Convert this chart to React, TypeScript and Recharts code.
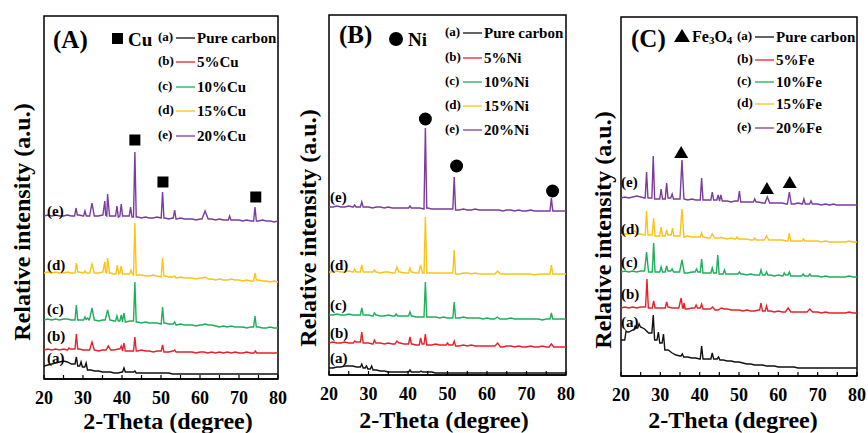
import React from 'react';
import { ComposedChart, Line, Scatter, XAxis, YAxis, ReferenceArea } from 'recharts';

const FONT = "'Liberation Serif','Times New Roman',serif";
const X_TICKS = [20, 25, 30, 35, 40, 45, 50, 55, 60, 65, 70, 75, 80];
const COLORS = ['#111111', '#e8202a', '#1fae5b', '#fcc317', '#7a3c9e'];
const CURVE_TAGS = ['(a)', '(b)', '(c)', '(d)', '(e)'];

// ---------- Panel A : Cu (baseline values at 20,21,...,80 deg; peaks [2θ, apex, halfWidth?]) ----------
const cuA_base = [13,14,15,16,17,18,17,15,14,13, 12,11,9,8,8,7,7,7,6,6, 7,7,7,6,6,6,6,6,6,6, 6,6,6,5,5,5,5,5,5,5, 5,5,5,5,5,5,5,5,5,5, 5,5,5,5,5,5,5,5,5,5, 5];
const cuA_peaks = [[28.3,22],[29.5,17],[30.8,16],[40.5,11],[43.3,8]];
const cuB_base = [29,30,29,30,29,30,29,30,29,30, 29,29,30,29,28,29,29,28,29,30, 29,28,28,29,28,29,28,28,27,28, 28,27,27,28,27,27,27,27,27,26, 27,27,26,27,26,27,26,27,26,27, 26,26,27,26,26,26,26,26,26,26, 26];
const cuB_peaks = [[26.4,31],[28.3,45],[32.3,37,0.6],[36.5,33,0.6],[39.8,33],[40.5,36],[43.3,42],[50.4,34],[53.5,29],[74.2,28]];
const cuC_base = [59,60,59,60,59,60,60,59,60,59, 59,60,59,59,58,59,58,59,58,58, 58,57,58,57,57,56,57,56,56,56, 55,56,55,55,54,55,54,54,54,53, 54,53,53,54,53,52,53,52,53,52, 52,52,51,52,51,52,51,51,52,51, 51];
const cuC_peaks = [[28.3,74],[30.5,62],[31.2,61],[32.3,71,0.6],[36.3,69,0.6],[38.7,63],[39.8,64],[40.5,66],[43.3,97],[50.4,72],[53.5,57],[61.3,55,0.8],[74.1,63]];
const cuD_base = [106,107,106,107,106,106,107,106,106,107, 106,106,107,106,106,107,106,106,105,106, 105,105,104,105,104,104,103,103,104,103, 102,103,102,102,101,102,101,101,101,100, 101,100,100,100,99,100,99,99,100,99, 99,98,99,98,98,99,98,98,97,98, 97];
const cuD_peaks = [[28.3,116],[30.5,108],[32.3,115,0.6],[35.6,117,0.5],[36.3,121,0.5],[38.8,114],[39.8,113],[42.3,109],[43.3,156],[50.4,121],[53.5,103],[61.3,102,0.8],[74.1,106]];
const cuE_base = [163,164,163,164,163,163,164,163,163,164, 163,163,164,163,163,164,163,163,163,163, 162,163,162,162,162,161,162,161,161,162, 161,161,160,161,160,161,160,160,160,159, 160,160,159,160,159,160,159,159,159,159, 159,158,159,158,159,158,159,158,158,157, 158];
const cuE_peaks = [[28.2,171],[30.5,168],[32.3,176,0.6],[35.6,178,0.5],[36.3,185,0.5],[38.7,173],[39.8,175],[42.2,172],[43.3,227],[50.4,187],[53.5,169],[61.3,168,0.8],[67.6,163],[74.1,172]];
const cuMarks = [{ x: 43.3, y: 239 }, { x: 50.5, y: 197 }, { x: 74.3, y: 182 }];
const cuLegend = ['Pure carbon', '5%Cu', '10%Cu', '15%Cu', '20%Cu'];

// ---------- Panel B : Ni ----------
const niA_base = [7,7,8,8,9,9,9,8,8,7, 6,5,5,4,4,3,3,3,3,3, 3,3,3,3,3,3,3,2,2,2, 2,2,2,2,2,2,2,2,2,2, 2,2,2,2,2,2,2,2,2,2, 2,2,2,2,2,2,2,2,2,2, 2];
const niA_peaks = [[28.3,11],[29.5,9],[30.8,9],[40.5,5],[43.3,4]];
const niB_base = [32,33,32,32,33,32,32,33,32,32, 32,31,32,32,31,32,31,31,32,31, 31,31,30,31,31,30,30,31,30,30, 30,30,30,29,30,29,30,29,29,29, 29,29,29,29,28,29,29,28,29,28, 28,29,28,28,29,28,28,28,28,28, 28];
const niB_peaks = [[26.5,34],[28.3,43],[31.5,35],[37.2,34,0.5],[40.5,38],[43.2,37],[44.4,41],[50,32],[51.7,34],[62.7,32,0.7],[76.3,31,0.6]];
const niC_base = [60,60,61,60,60,61,60,60,60,60, 60,59,60,59,59,60,59,59,59,59, 59,59,58,58,58,58,58,58,57,58, 57,57,57,57,58,57,57,57,57,56, 57,56,56,57,56,56,57,56,56,56, 56,56,56,56,55,56,56,56,56,56, 56];
const niC_peaks = [[28.3,67],[31.5,62],[37,61],[40.5,63],[44.4,93],[51.7,73],[62.6,58,0.7],[76.3,62]];
const niD_base = [103,103,104,103,103,104,103,103,103,103, 103,103,103,102,103,103,102,103,103,102, 102,103,102,102,102,102,102,102,102,102, 102,102,102,101,102,102,101,102,101,101, 101,101,101,102,101,101,101,101,101,101, 101,101,100,101,101,101,101,101,101,101, 101];
const niD_peaks = [[26.5,106],[28.3,110],[31.5,105],[37.2,108,0.5],[40.5,107],[43.2,110,0.5],[44.4,158],[51.7,125],[62.7,104,0.7],[76.3,110]];
const niE_base = [168,168,169,168,168,169,168,168,168,168, 168,167,168,168,167,168,167,167,167,167, 167,167,167,167,166,167,166,166,166,166, 166,166,166,165,166,165,165,166,165,165, 165,165,165,165,164,165,165,164,165,164, 164,165,164,164,164,164,164,164,164,164, 164];
const niE_peaks = [[26.5,170],[28.3,173],[40.5,169],[44.4,247],[51.7,198],[76.3,177]];
const niMarks = [{ x: 44.4, y: 256 }, { x: 52.3, y: 209 }, { x: 76.6, y: 184 }];
const niLegend = ['Pure carbon', '5%Ni', '10%Ni', '15%Ni', '20%Ni'];

// ---------- Panel C : Fe ----------
const feA_base = [36,41,44,46,48,49,47,43,39,36, 33,30,26,23,21,20,19,19,18,18, 17,17,17,18,17,16,16,15,15,14, 14,13,12,12,11,11,11,10,10,10, 9,9,9,9,9,8,8,8,8,8, 8,8,8,8,8,8,8,8,8,8, 8];
const feA_peaks = [[21.3,45],[23.6,50],[24.6,52],[28.2,61],[29.5,44],[30.8,42],[35.6,22],[40.5,30],[43.2,23],[44.8,19]];
const feB_base = [68,69,68,69,68,69,69,68,69,68, 68,68,69,68,68,68,68,67,68,67, 68,67,67,67,66,67,66,67,66,66, 66,65,66,65,65,66,65,65,65,64, 65,64,64,65,64,64,64,64,64,64, 64,63,64,63,63,63,63,63,64,63, 63];
const feB_peaks = [[26.6,97],[28.3,75],[31.6,74],[35.3,78,0.6],[36,73],[39.1,71],[40.5,72],[43.3,69,0.6],[45.5,68,0.8],[55.6,73],[57,70],[62.5,68,0.7],[68,67,0.7]];
const feC_base = [104,105,104,105,104,105,105,104,105,104, 104,104,105,104,104,104,104,103,104,103, 104,103,103,103,103,102,103,102,102,102, 102,102,101,102,101,101,101,101,101,100, 101,100,101,100,100,100,100,100,100,100, 100,99,100,99,99,99,99,99,100,99, 99];
const feC_peaks = [[26.5,124,0.5],[28.3,133],[30.2,109],[31.6,110],[33,107],[35.5,116,0.6],[39.2,107],[40.5,117],[43.2,108],[44.6,121],[46.3,106],[50.1,104],[55.6,106],[57,104],[61.5,103],[62.8,104],[66.3,102],[68,102]];
const feD_base = [141,142,142,144,143,142,141,141,141,140, 140,140,141,140,140,140,139,140,139,139, 139,139,138,139,138,138,138,137,138,137, 137,137,137,136,137,136,136,137,136,136, 136,136,135,136,135,135,135,135,135,135, 135,134,135,134,134,134,134,134,135,134, 134];
const feD_peaks = [[23.5,145,1],[26.5,165],[28.3,158],[30.2,149],[31.6,146],[33.1,148],[35.5,167,0.5],[40.5,143],[43.2,142,0.6],[45.5,139],[49.5,139],[54,138],[57,140,0.6],[62.8,143],[66.4,137]];
const feE_base = [178,179,178,179,180,179,178,178,178,177, 177,177,178,177,177,177,177,176,177,176, 176,176,176,175,176,175,175,175,174,175, 174,174,174,174,173,174,173,173,173,173, 173,173,172,173,172,173,172,172,172,172, 172,171,172,171,172,171,171,171,171,171, 171];
const feE_peaks = [[26.5,204],[28.2,220],[30.2,187],[31.6,193],[33,182],[35.5,216,0.5],[40.5,198],[43.2,184],[44.7,181],[45.4,181],[50.1,185],[54,177],[57.2,179,0.6],[62.8,184,0.5],[66.5,177],[68.3,175],[74,172,0.8]];
const feMarks = [{ x: 35.3, y: 224 }, { x: 57.1, y: 188 }, { x: 62.9, y: 194 }];
const feLegend = ['Pure carbon', '5%Fe', '10%Fe', '15%Fe', '20%Fe'];

type Pt = { x: number; y: number };

function buildSeries(base: number[], peaks: number[][]): Pt[] {
  const pts: Pt[] = [];
  base.forEach((v, i) => {
    const x = 20 + i;
    const hidden = peaks.some((p) => Math.abs(p[0] - x) < (p[2] ?? 0.35));
    if (!hidden) pts.push({ x, y: v });
  });
  peaks.forEach((p) => {
    const w = p[2] ?? 0.35;
    const c = p[0];
    const li = Math.max(0, Math.floor(c - w) - 20);
    const ri = Math.min(base.length - 1, Math.ceil(c + w) - 20);
    pts.push({ x: c - w, y: base[li] }, { x: c, y: p[1] }, { x: c + w, y: base[ri] });
  });
  pts.sort((a, b) => a.x - b.x);
  return pts;
}

const SquareShape = (p: any) => <rect x={p.cx - 5.5} y={p.cy - 5.5} width={11} height={11} fill="#000" />;
const CircleShape = (p: any) => <circle cx={p.cx} cy={p.cy} r={6.5} fill="#000" />;
const TriangleShape = (p: any) => (
  <polygon points={`${p.cx - 7},${p.cy + 6} ${p.cx + 7},${p.cy + 6} ${p.cx},${p.cy - 6}`} fill="#000" />
);

type PanelProps = {
  left: number;
  width: number;
  margin: { top: number; right: number; left: number; bottom: number };
  xHeight: number;
  yMax: number;
  series: Pt[][];
  marks: Pt[];
  shape: any;
};

function Panel({ left, width, margin, xHeight, yMax, series, marks, shape }: PanelProps) {
  return (
    <div style={{ position: 'absolute', left, top: 0 }}>
      <ComposedChart width={width} height={433} margin={margin}>
        <XAxis
          dataKey="x"
          type="number"
          domain={[20, 80]}
          ticks={X_TICKS}
          allowDataOverflow
          height={xHeight}
          tickSize={-4}
          tickMargin={16}
          interval={0}
          tickFormatter={(v: number) => (v % 10 === 0 ? String(v) : '')}
          tick={{ fontSize: 18, fontWeight: 'bold', fill: '#000', fontFamily: FONT }}
          tickLine={{ stroke: '#000', strokeWidth: 1.2 }}
          axisLine={{ stroke: '#000', strokeWidth: 1.5 }}
        />
        <YAxis hide type="number" domain={[0, yMax]} allowDataOverflow />
        {series.map((d, i) => (
          <Line
            key={i}
            data={d}
            dataKey="y"
            type="linear"
            stroke={COLORS[i]}
            strokeWidth={1.4}
            dot={false}
            activeDot={false}
            isAnimationActive={false}
          />
        ))}
        <Scatter data={marks} dataKey="y" shape={shape} isAnimationActive={false} />
        <ReferenceArea x1={20} x2={80} y1={0} y2={yMax} fill="none" fillOpacity={0} stroke="#000" strokeWidth={1.5} ifOverflow="visible" />
      </ComposedChart>
    </div>
  );
}

function LegendBlock({ x, ys, labels }: { x: number; ys: number[]; labels: string[] }) {
  return (
    <g fontFamily={FONT} fontWeight="bold" fill="#000">
      {ys.map((y, i) => (
        <g key={i}>
          <text x={x} y={y - 2} fontSize={13} dominantBaseline="central">{CURVE_TAGS[i]}</text>
          <line x1={x + 18} x2={x + 37} y1={y} y2={y} stroke={COLORS[i]} strokeWidth={1.3} />
          <text x={x + 39} y={y} fontSize={15} dominantBaseline="central">{labels[i]}</text>
        </g>
      ))}
    </g>
  );
}

function CurveTags({ x, ys }: { x: number; ys: number[] }) {
  return (
    <g fontFamily={FONT} fontWeight="bold" fill="#000" fontSize={15}>
      {ys.map((y, i) => (
        <text key={i} x={x} y={y} dominantBaseline="central">{CURVE_TAGS[i]}</text>
      ))}
    </g>
  );
}

export default function App() {
  const cuSeries = [
    buildSeries(cuA_base, cuA_peaks), buildSeries(cuB_base, cuB_peaks), buildSeries(cuC_base, cuC_peaks),
    buildSeries(cuD_base, cuD_peaks), buildSeries(cuE_base, cuE_peaks),
  ];
  const niSeries = [
    buildSeries(niA_base, niA_peaks), buildSeries(niB_base, niB_peaks), buildSeries(niC_base, niC_peaks),
    buildSeries(niD_base, niD_peaks), buildSeries(niE_base, niE_peaks),
  ];
  const feSeries = [
    buildSeries(feA_base, feA_peaks), buildSeries(feB_base, feB_peaks), buildSeries(feC_base, feC_peaks),
    buildSeries(feD_base, feD_peaks), buildSeries(feE_base, feE_peaks),
  ];
  return (
    <div style={{ position: 'absolute', left: 0, top: 0, width: 868, height: 433, background: '#fff', overflow: 'hidden' }}>
      <Panel left={0} width={290} margin={{ top: 16, right: 12, left: 44, bottom: 0 }} xHeight={54} yMax={363} series={cuSeries} marks={cuMarks} shape={SquareShape} />
      <Panel left={290} width={290} margin={{ top: 15, right: 14, left: 39, bottom: 0 }} xHeight={58} yMax={360} series={niSeries} marks={niMarks} shape={CircleShape} />
      <Panel left={580} width={288} margin={{ top: 17, right: 11, left: 41, bottom: 0 }} xHeight={57} yMax={359} series={feSeries} marks={feMarks} shape={TriangleShape} />
      <svg width={868} height={433} style={{ position: 'absolute', left: 0, top: 0, pointerEvents: 'none' }}>
        <g fontFamily={FONT} fontWeight="bold" fill="#000">
          {/* panel titles */}
          <text x={53} y={39} fontSize={25} dominantBaseline="central">(A)</text>
          <rect x={112} y={33} width={11} height={11} fill="#000" />
          <text x={128} y={39} fontSize={19} dominantBaseline="central">Cu</text>

          <text x={339} y={34} fontSize={25} dominantBaseline="central">(B)</text>
          <circle cx={396} cy={39} r={7} fill="#000" />
          <text x={408} y={39} fontSize={19} dominantBaseline="central">Ni</text>

          <text x={631} y={38} fontSize={25} dominantBaseline="central">(C)</text>
          <polygon points="674,42 690,42 682,29" fill="#000" />
          <text x={692} y={36} fontSize={16} dominantBaseline="central">
            Fe<tspan fontSize={11} dy={4}>3</tspan><tspan dy={-4}>O</tspan><tspan fontSize={11} dy={4}>4</tspan>
          </text>

          {/* y-axis titles */}
          <text transform="translate(22,222) rotate(-90)" textAnchor="middle" dominantBaseline="central" fontSize={24}>Relative intensity (a.u.)</text>
          <text transform="translate(308,228) rotate(-90)" textAnchor="middle" dominantBaseline="central" fontSize={24}>Relative intensity (a.u.)</text>
          <text transform="translate(603,230) rotate(-90)" textAnchor="middle" dominantBaseline="central" fontSize={24}>Relative intensity (a.u.)</text>

          {/* x-axis titles */}
          <text x={168} y={421} textAnchor="middle" dominantBaseline="central" fontSize={24}>2-Theta (degree)</text>
          <text x={444} y={420} textAnchor="middle" dominantBaseline="central" fontSize={24}>2-Theta (degree)</text>
          <text x={733} y={420} textAnchor="middle" dominantBaseline="central" fontSize={24}>2-Theta (degree)</text>
        </g>
        <LegendBlock x={158} ys={[38, 62, 87, 111, 136]} labels={cuLegend} />
        <LegendBlock x={445} ys={[33, 58, 82, 106, 130]} labels={niLegend} />
        <LegendBlock x={737} ys={[37, 60, 82, 104, 128]} labels={feLegend} />
        <CurveTags x={47} ys={[358, 336, 309, 265, 211]} />
        <CurveTags x={330} ys={[358, 333, 305, 265, 197]} />
        <CurveTags x={621} ys={[322, 294, 262, 229, 182]} />
      </svg>
    </div>
  );
}
